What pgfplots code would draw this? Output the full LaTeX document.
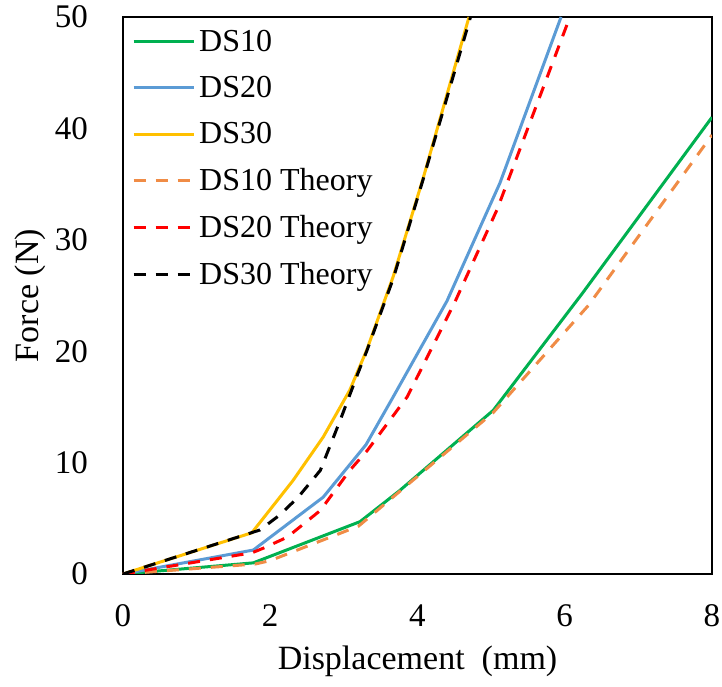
\documentclass[border=0pt]{standalone}
\usepackage{fontspec}
\setmainfont{Liberation Serif}
\usepackage{pgfplots}
\pgfplotsset{compat=1.18}
\definecolor{cgreen}{RGB}{0,176,80}
\definecolor{cblue}{RGB}{91,155,213}
\definecolor{cyellow}{RGB}{255,192,0}
\definecolor{corange}{RGB}{240,140,70}
\definecolor{cred}{RGB}{255,0,0}
\begin{document}
\begin{tikzpicture}
\begin{axis}[
  name=ax,
  scale only axis,
  width=294.5pt, height=278.5pt,
  xmin=0, xmax=8, ymin=0, ymax=50,
  xtick={0,2,4,6,8}, ytick={0,10,20,30,40,50},
  major tick length=0pt,
  axis line style={black, line width=1.2pt},
  /pgf/number format/assume math mode=true,
  tick label style={font=\fontsize{16.5}{18}\selectfont},
  xticklabel style={anchor=base, yshift=-26.5pt},
  yticklabel style={xshift=-14pt},
  xlabel={Displacement~~(mm)},
  ylabel={Force (N)},
  label style={font=\fontsize{17}{19}\selectfont},
  xlabel style={at={(axis description cs:0.5,0)}, anchor=base, yshift=-48pt},
  ylabel style={yshift=-2.5pt},
  legend cell align=left,
  legend style={at={(0.015,0.985)}, anchor=north west, draw=none, fill=none,
    font=\fontsize{16}{18}\selectfont, row sep=6.9pt, inner sep=0pt},
  legend image code/.code={\draw[#1] (0pt,0pt) -- (30pt,0pt);},
  every axis plot/.append style={line width=1.5pt},
]
\addplot[cgreen] coordinates {(0,0) (1.77,1.0) (3.22,4.7) (3.76,7.5) (5.03,14.7) (6.24,25.2) (8,41)};
\addlegendentry{DS10}
\addplot[cblue] coordinates {(0,0) (1.77,2.15) (2.0,3.3) (2.72,6.9) (3.3,11.6) (3.67,15.9) (4.4,24.5) (5.12,35.1) (5.95,50)};
\addlegendentry{DS20}
\addplot[cyellow] coordinates {(0,0) (1.75,3.7) (2.31,8.4) (2.72,12.3) (3.08,16.5) (3.31,20.1) (3.67,26.7) (4.08,35.6) (4.70,50)};
\addlegendentry{DS30}
\addplot[corange, dash pattern=on 6pt off 5pt] coordinates {(0,0) (1.8,0.9) (2.0,1.2) (3.2,4.3) (5.03,14.5) (6.32,24.1) (8,39.4)};
\addlegendentry{DS10 Theory}
\addplot[cred, dash pattern=on 6pt off 5pt] coordinates {(0,0) (1.75,1.9) (1.9,2.3) (2.23,3.3) (2.68,5.7) (3.08,9.3) (3.32,11.1) (3.86,15.9) (4.5,24.3) (5.08,32.7) (6.07,50)};
\addlegendentry{DS20 Theory}
\addplot[black, dash pattern=on 6pt off 5pt] coordinates {(0,0) (1.86,3.95) (2.13,5.3) (2.38,6.9) (2.68,9.3) (2.95,13.8) (3.19,18.0) (3.31,20.0) (3.67,26.5) (4.08,35.5) (4.72,50)};
\addlegendentry{DS30 Theory}
\end{axis}
\pgfresetboundingbox
\path ([xshift=-61.5pt,yshift=-56.5pt]ax.south west) rectangle ([xshift=5pt,yshift=8.5pt]ax.north east);
\end{tikzpicture}
\end{document}
